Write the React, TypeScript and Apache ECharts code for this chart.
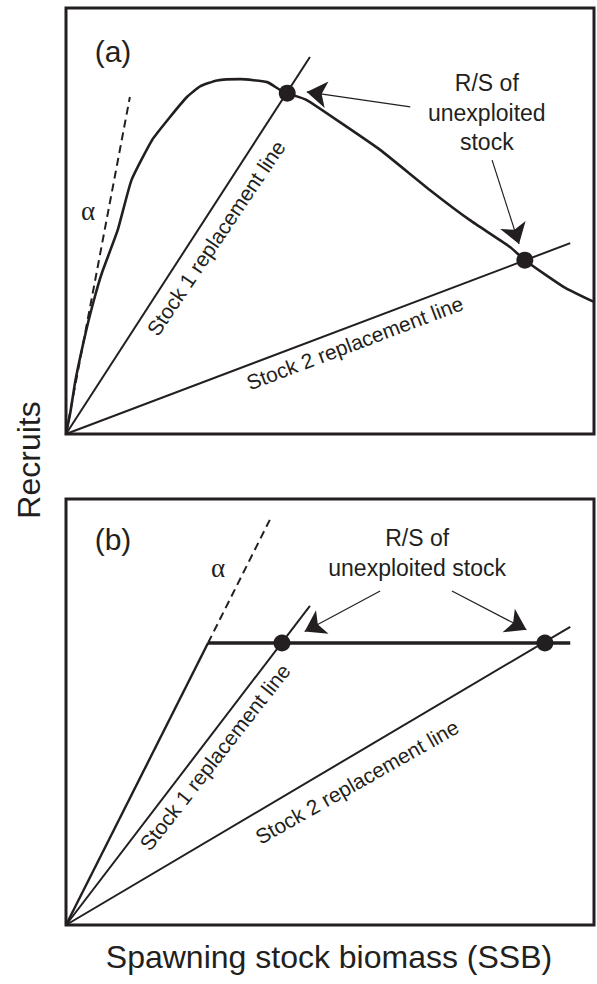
import React, { useEffect, useRef } from "react";
import * as echarts from "echarts";

// ---------- data (SSB on x, recruits on y; both axes 0..100 arbitrary units) ----------
// Panel (a): dome-shaped (Ricker-type) stock–recruit curve
const curveA: [number, number][] = [
  [0, 0], [0.8, 4.9], [1.8, 12.7], [3.9, 24.7], [5.5, 32.4], [6.8, 37.8], [9.8, 47.9], [12.4, 59.6],
  [16.3, 69.0], [19.7, 74.4], [22.9, 79.1], [25.4, 81.6], [28.6, 83.0], [33.0, 83.3],
  [38.1, 82.6], [40.5, 80.8], [41.9, 80.0], [45.6, 78.4], [53.2, 72.1], [59.5, 66.7],
  [68.9, 57.3], [76.5, 50.2], [84.1, 43.9], [86.9, 40.8], [94.3, 34.5], [100, 31.0],
];
const alphaA: [number, number][] = [[0, 0], [12.1, 79.1]];
const stock1A: [number, number][] = [[0, 0], [46.2, 88.5]];
const stock2A: [number, number][] = [[0, 0], [95.5, 44.8]];
const equilibriaA: [number, number][] = [[41.9, 80.0], [86.9, 40.8]];
const arrowsA: [number, number][][] = [
  [[65.2, 76.8], [45.6, 80.3]],
  [[80.7, 64.3], [85.8, 44.6]],
];

// Panel (b): hockey-stick stock–recruit relationship
const slopeB: [number, number][] = [[0, 0], [26.9, 66.2]];
const alphaB: [number, number][] = [[26.9, 66.2], [38.6, 95.1]];
const plateauB: [number, number][] = [[26.9, 66.2], [95.5, 66.2]];
const stock1B: [number, number][] = [[0, 0], [46.2, 74.9]];
const stock2B: [number, number][] = [[0, 0], [95.5, 70.0]];
const equilibriaB: [number, number][] = [[40.9, 66.2], [90.7, 66.2]];
const arrowsB: [number, number][][] = [
  [[59.5, 78.4], [45.2, 68.9]],
  [[73.1, 78.4], [87.2, 69.3]],
];

// Annotations: [x, y, text, rotation(deg), kind]
type Note = [number, number, string, number, string];
const notesA: Note[] = [
  [8.9, 89.7, "(a)", 0, "panel"],
  [4.2, 52.3, "α", 0, "alpha"],
  [79.7, 75.4, "R/S of\nunexploited\nstock", 0, "rs"],
  [28.4, 46.0, "Stock 1 replacement line", 56, "line"],
  [54.7, 21.4, "Stock 2 replacement line", 20.7, "line"],
];
const notesB: Note[] = [
  [8.9, 90.4, "(b)", 0, "panel"],
  [28.8, 83.8, "α", 0, "alpha"],
  [66.5, 87.3, "R/S of\nunexploited stock", 0, "rs"],
  [28.2, 39.4, "Stock 1 replacement line", 52, "line"],
  [55.1, 33.6, "Stock 2 replacement line", 29.5, "line"],
];

const xTitle = "Spawning stock biomass (SSB)";
const yTitle = "Recruits";

const INK = "#231f20";
const SANS = "'Liberation Sans', Arial, Helvetica, sans-serif";

function lineSeries(data: [number, number][], idx: number, width: number, dashed = false) {
  return {
    type: "line",
    xAxisIndex: idx,
    yAxisIndex: idx,
    data,
    showSymbol: false,
    symbol: "none",
    silent: true,
    lineStyle: { color: INK, width, opacity: 1, type: dashed ? [8, 5] : "solid" },
    z: 3,
  };
}

function noteSeries(notes: Note[], idx: number) {
  return {
    type: "scatter",
    xAxisIndex: idx,
    yAxisIndex: idx,
    symbolSize: 0,
    silent: true,
    z: 6,
    itemStyle: { opacity: 1 },
    data: notes.map(([x, y, text, rot, kind]) => {
      const size = kind === "panel" ? 30 : kind === "rs" ? 23 : kind === "alpha" ? 27 : 21;
      return {
        value: [x, y],
        label: {
          show: true,
          position: "inside",
          formatter: text,
          rotate: rot,
          align: "center",
          verticalAlign: "middle",
          color: INK,
          opacity: 1,
          fontSize: size,
          lineHeight: kind === "rs" ? 29.5 : undefined,
          fontFamily: kind === "alpha" ? "'Liberation Serif', 'DejaVu Serif', serif" : SANS,
        },
      };
    }),
  };
}

function arrowSeries(arrows: [number, number][][], idx: number) {
  return {
    type: "lines",
    coordinateSystem: "cartesian2d",
    xAxisIndex: idx,
    yAxisIndex: idx,
    silent: true,
    symbol: ["none", "arrow"],
    symbolSize: [11, 20],
    lineStyle: { color: INK, width: 1.2, opacity: 1, curveness: 0 },
    itemStyle: { color: INK, opacity: 1 },
    z: 5,
    data: arrows.map((c) => ({ coords: c })),
  };
}

function dotSeries(data: [number, number][], idx: number) {
  return {
    type: "scatter",
    xAxisIndex: idx,
    yAxisIndex: idx,
    data,
    symbol: "circle",
    symbolSize: 17,
    silent: true,
    itemStyle: { color: INK, opacity: 1 },
    z: 7,
  };
}

const axisBase = {
  type: "value",
  min: 0,
  max: 100,
  axisLine: { show: false },
  axisTick: { show: false },
  axisLabel: { show: false },
  splitLine: { show: false },
};

export default function App() {
  const ref = useRef<HTMLDivElement>(null);
  useEffect(() => {
    if (!ref.current) return;
    const chart = echarts.init(ref.current, undefined, { renderer: "svg" });
    const gridBase = { show: true, borderColor: INK, borderWidth: 3, backgroundColor: "#fff", left: 66, width: 528, height: 426 };
    chart.setOption({
      animation: false,
      backgroundColor: "#fff",
      grid: [
        { ...gridBase, top: 8 },
        { ...gridBase, top: 499 },
      ],
      xAxis: [{ ...axisBase, gridIndex: 0 }, { ...axisBase, gridIndex: 1 }],
      yAxis: [{ ...axisBase, gridIndex: 0 }, { ...axisBase, gridIndex: 1 }],
      graphic: [
        {
          type: "text",
          x: 329,
          y: 957,
          style: { text: xTitle, font: `32px ${SANS}`, fill: INK, align: "center", verticalAlign: "middle" },
        },
        {
          type: "text",
          x: 29,
          y: 460,
          rotation: Math.PI / 2,
          style: { text: yTitle, font: `32px ${SANS}`, fill: INK, align: "center", verticalAlign: "middle" },
        },
      ],
      series: [
        { ...lineSeries(curveA, 0, 2.6), smooth: 0.15 },
        lineSeries(alphaA, 0, 2, true),
        lineSeries(stock1A, 0, 2),
        lineSeries(stock2A, 0, 2),
        dotSeries(equilibriaA, 0),
        arrowSeries(arrowsA, 0),
        noteSeries(notesA, 0),

        lineSeries(slopeB, 1, 2.4),
        lineSeries(alphaB, 1, 2, true),
        lineSeries(plateauB, 1, 3.5),
        lineSeries(stock1B, 1, 2),
        lineSeries(stock2B, 1, 2),
        dotSeries(equilibriaB, 1),
        arrowSeries(arrowsB, 1),
        noteSeries(notesB, 1),
      ],
    });
    return () => chart.dispose();
  }, []);
  return (
    <div
      ref={ref}
      style={{ position: "absolute", left: 0, top: 0, width: 597, height: 984, background: "#fff" }}
    />
  );
}
